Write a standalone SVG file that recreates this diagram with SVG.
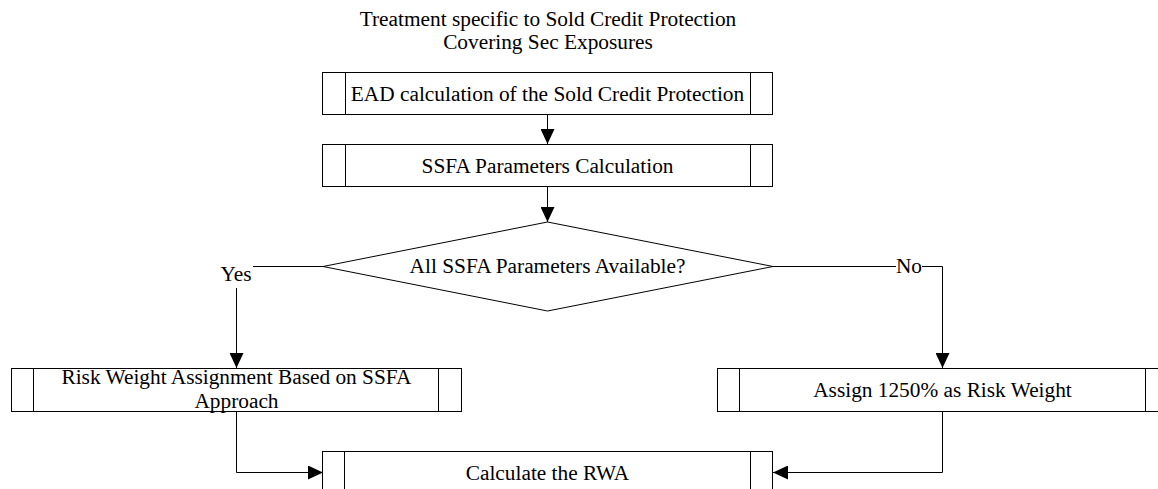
<svg xmlns="http://www.w3.org/2000/svg" width="1158" height="489" viewBox="0 0 1158 489">
<style>
text{font-family:"Liberation Serif","Times New Roman",serif;font-size:21.33px;fill:#000;text-anchor:middle}
.box{fill:#fff;stroke:#000;stroke-width:1}
.ln{fill:none;stroke:#000;stroke-width:1}
.cn{fill:none;stroke:#000;stroke-width:1;marker-end:url(#arr)}
</style>
<defs>
<marker id="arr" markerUnits="userSpaceOnUse" markerWidth="15" markerHeight="14" refX="15" refY="7" orient="auto">
<path d="M0,0 L15,7 L0,14 z" fill="#000"/>
</marker>
</defs>
<rect width="1158" height="489" fill="#fff"/>
<g id="title">
<text x="548" y="26">Treatment specific to Sold Credit Protection</text>
<text x="548" y="49">Covering Sec Exposures</text>
</g>
<g id="connectors">
<path class="cn" d="M547.5,115 V144"/>
<path class="cn" d="M547.5,187 V222"/>
<path class="ln" d="M323,266.5 H253"/>
<path class="cn" d="M236.5,288 V368"/>
<path class="ln" d="M773,266.5 H896"/>
<path class="cn" d="M922,266.5 H942.5 V368"/>
<path class="cn" d="M236.5,412 V472.5 H323"/>
<path class="cn" d="M942.5,412 V472.5 H773"/>
</g>
<g id="ead">
<rect class="box" x="322.5" y="72.5" width="450" height="42"/>
<path class="ln" d="M345.5,72.5 V114.5 M750.5,72.5 V114.5"/>
<text x="547.5" y="101">EAD calculation of the Sold Credit Protection</text>
</g>
<g id="ssfa">
<rect class="box" x="322.5" y="144.5" width="450" height="42"/>
<path class="ln" d="M345.5,144.5 V186.5 M750.5,144.5 V186.5"/>
<text x="547.5" y="173">SSFA Parameters Calculation</text>
</g>
<g id="decision">
<path class="box" d="M547.5,222 L773,266.5 L547.5,311 L323,266.5 z"/>
<text x="547.5" y="273">All SSFA Parameters Available?</text>
</g>
<g id="yes-label">
<text x="236" y="281">Yes</text>
</g>
<g id="no-label">
<text x="909" y="273">No</text>
</g>
<g id="ssfa-rw">
<rect class="box" x="11.5" y="368.5" width="450" height="43"/>
<path class="ln" d="M33.5,368.5 V411.5 M438.5,368.5 V411.5"/>
<text x="236.5" y="384">Risk Weight Assignment Based on SSFA</text>
<text x="236.5" y="408">Approach</text>
</g>
<g id="rw1250">
<rect class="box" x="717.5" y="368.5" width="450" height="43"/>
<path class="ln" d="M739.5,368.5 V411.5 M1145.5,368.5 V411.5"/>
<text x="942.5" y="397">Assign 1250% as Risk Weight</text>
</g>
<g id="rwa">
<rect class="box" x="322.5" y="451.5" width="450" height="43"/>
<path class="ln" d="M344.5,451.5 V494.5 M750.5,451.5 V494.5"/>
<text x="547.5" y="480">Calculate the RWA</text>
</g>
</svg>
